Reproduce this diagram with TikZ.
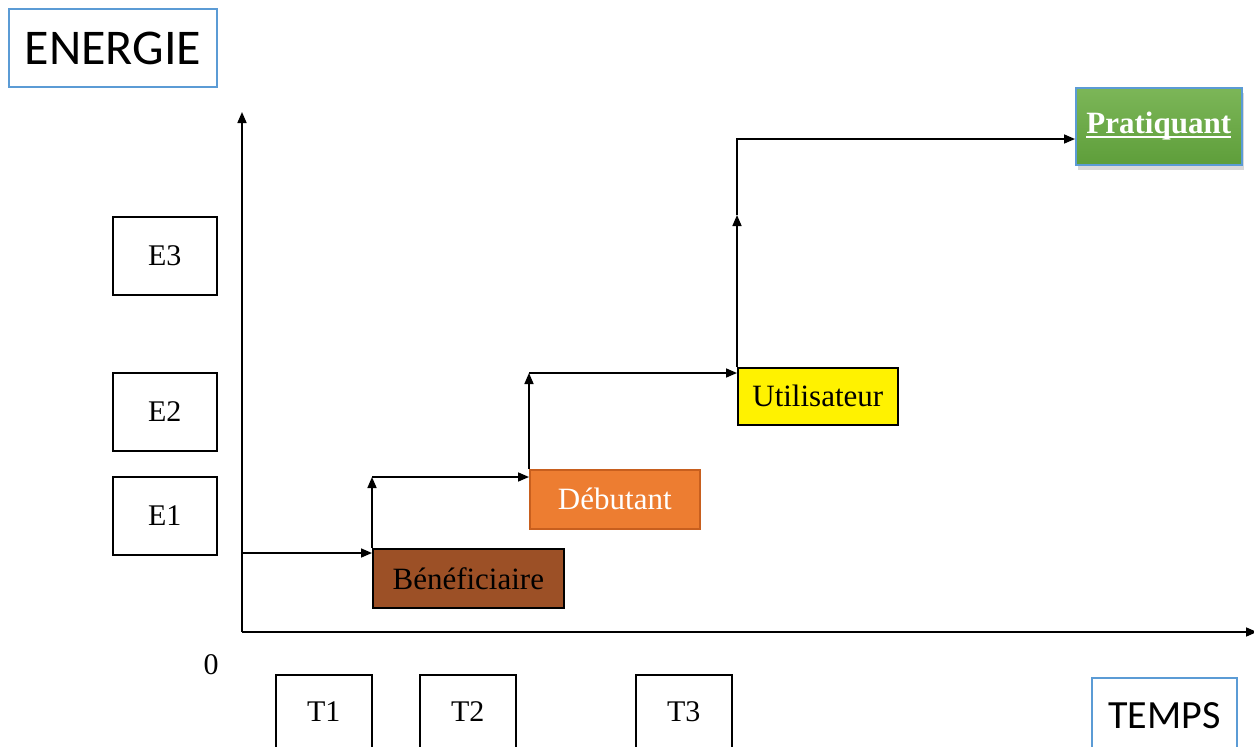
\documentclass[tikz,border=0pt]{standalone}
\usepackage{fontspec}
\setmainfont{Liberation Serif}
\newfontfamily\calib{Carlito}
\usetikzlibrary{arrows.meta,shadows}
\definecolor{axisblue}{RGB}{91,155,213}
\definecolor{brownfill}{RGB}{156,80,38}
\definecolor{orangefill}{RGB}{237,125,49}
\definecolor{orangeline}{RGB}{200,95,30}
\definecolor{greentop}{RGB}{124,182,88}
\definecolor{greenbot}{RGB}{94,158,58}
\newcommand{\thickul}[1]{\leavevmode\rlap{\rule[-4pt]{\widthof{#1}}{2pt}}#1}
\usepackage{calc}
\tikzset{
  lvlbox/.style={draw=black, line width=1.6pt, rectangle, inner sep=0pt, anchor=north west,
    font=\fontsize{30}{34}\selectfont},
  bluebox/.style={draw=axisblue, line width=2pt, rectangle, inner sep=0pt, anchor=north west,
    fill=white},
  arr/.style={line width=1.6pt, -{Triangle[length=11pt,width=9pt]}},
}
\begin{document}
\begin{tikzpicture}[x=1pt,y=-1pt]
\useasboundingbox (0,0) rectangle (1254,747);
% titles
\node[bluebox, minimum width=208, minimum height=78, font=\calib\fontsize{50}{56}\selectfont] (energie) at (8,8) {ENERGIE};
\node[bluebox, minimum width=145, minimum height=76, font=\calib\fontsize{40}{46}\selectfont] (temps) at (1091,677) {TEMPS};
% axes
\coordinate (O) at (242,632);
\coordinate (ytop) at (242,112);
\coordinate (xend) at (1257,632);
\draw[arr] (O) -- (ytop);
\draw[arr] (O) -- (xend);
\node[font=\fontsize{30}{34}\selectfont] (zero) at (211,665) {0};
% E boxes
\node[lvlbox, minimum width=104, minimum height=78] (e3) at (112,216) {E3};
\node[lvlbox, minimum width=104, minimum height=78] (e2) at (112,372) {E2};
\node[lvlbox, minimum width=104, minimum height=78] (e1) at (112,476) {E1};
% T boxes
\node[lvlbox, minimum width=96, minimum height=74] (t1) at (275,674) {T1};
\node[lvlbox, minimum width=96, minimum height=74] (t2) at (419,674) {T2};
\node[lvlbox, minimum width=96, minimum height=74] (t3) at (635,674) {T3};
% stages
\node[lvlbox, fill=brownfill, minimum width=191, minimum height=59, font=\fontsize{31}{34}\selectfont] (benef) at (372,548) {Bénéficiaire};
\node[lvlbox, draw=orangeline, fill=orangefill, text=white, minimum width=170, minimum height=59, font=\fontsize{31}{34}\selectfont] (debut) at (529,469) {Débutant};
\node[lvlbox, fill=yellow, minimum width=160, minimum height=57, font=\fontsize{31}{34}\selectfont] (util) at (737,367) {Utilisateur};
\node[lvlbox, draw=axisblue, line width=1.5pt, top color=greentop, bottom color=greenbot, text=white, minimum width=166, minimum height=77, font=\bfseries\fontsize{31}{34}\selectfont, drop shadow={opacity=0.3, shadow xshift=2pt, shadow yshift=-5pt}] (prat) at (1075,87) {\thickul{Pratiquant}};
% connectors
\coordinate (s0) at (242,553);
\coordinate (b1) at (372,477);
\coordinate (c1) at (529,373);
\coordinate (d1) at (737,215);
\coordinate (d2) at (737,139);
\draw[arr] (s0) -- (benef.west |- s0);
\draw[arr] (benef.north west) -- (b1);
\draw[arr] (b1) -- (debut.west |- b1);
\draw[arr] (debut.north west) -- (c1);
\draw[arr] (c1) -- (util.west |- c1);
\draw[arr] (util.north west) -- (d1);
\draw[arr] (d1) -- (d2) -- (prat.west |- d2);
\end{tikzpicture}
\end{document}
